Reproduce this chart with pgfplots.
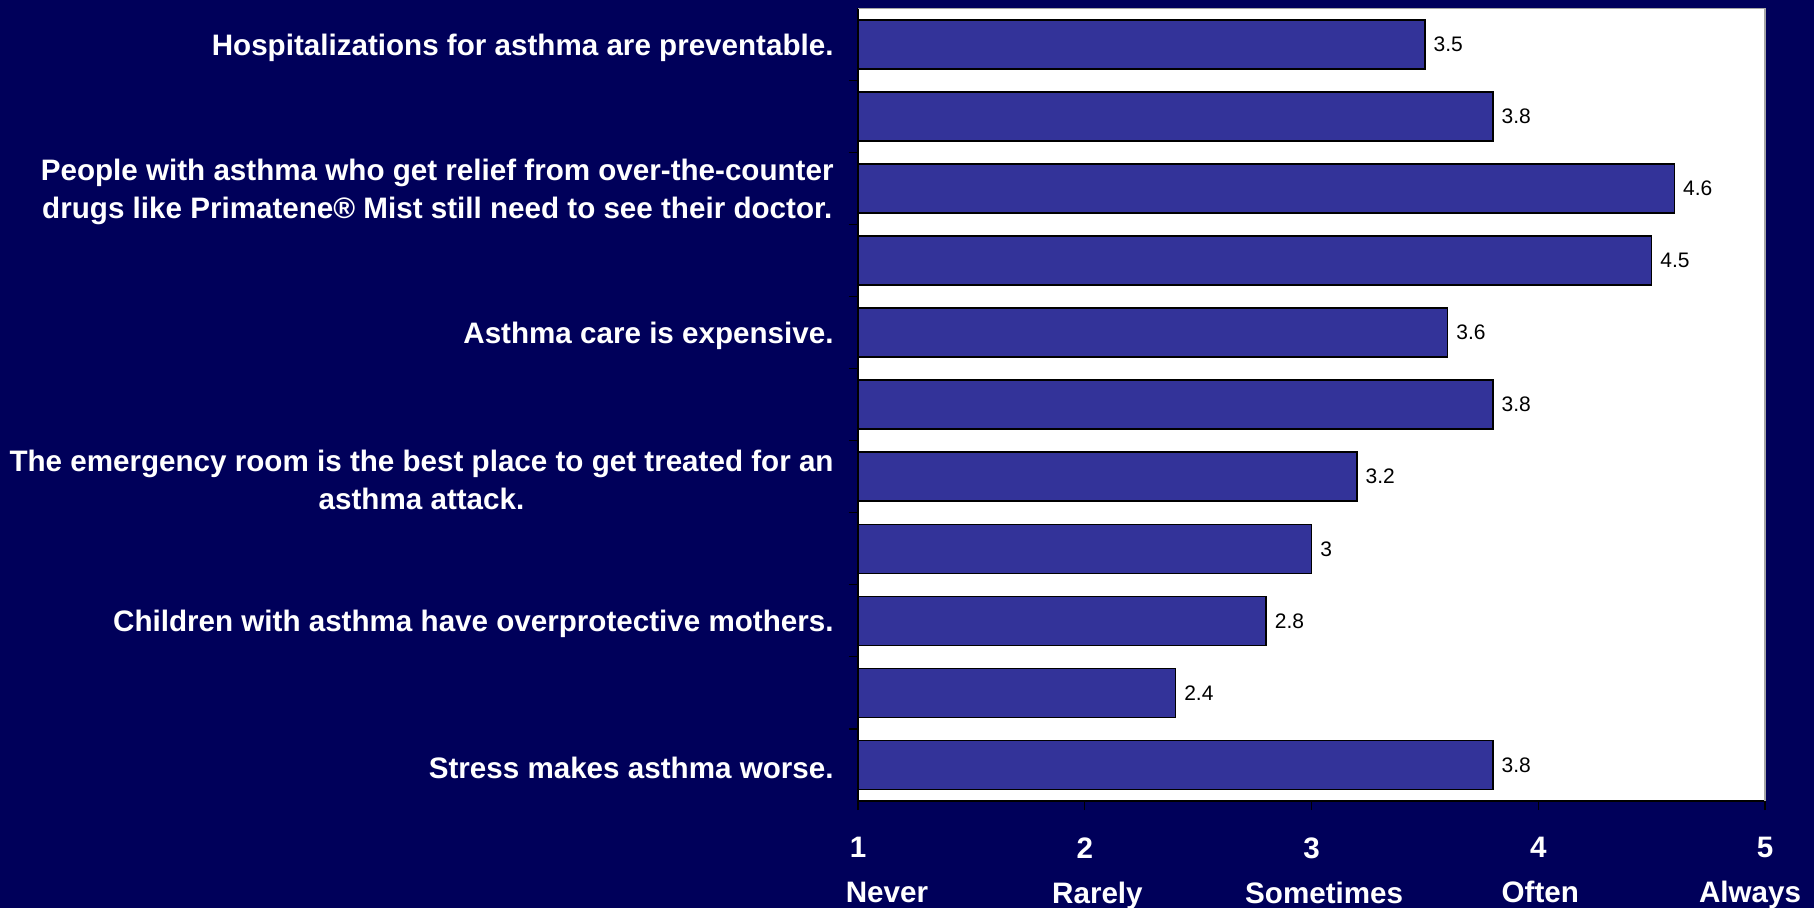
\documentclass[border=0pt]{standalone}
\usepackage{pgfplots}
\pgfplotsset{compat=1.18}
\usepackage{fontspec}
\setmainfont{Liberation Sans}
\definecolor{navybg}{RGB}{0,0,90}
\definecolor{barblue}{RGB}{51,51,153}
\begin{document}
\begin{tikzpicture}
\fill[navybg] (0,0) rectangle (907pt,454pt);
\useasboundingbox (0,0) rectangle (907pt,454pt);
\begin{axis}[
    name=ax,
    at={(429pt,53.5pt)}, anchor=south west,
    scale only axis,
    width=453.5pt, height=396.3pt,
    xbar, bar width=0.68,
    xmin=1, xmax=5,
    ymin=-0.5, ymax=10.5,
    y dir=reverse,
    axis background/.style={fill=white},
    axis line style={black, line width=0.8pt},
    tick align=outside,
    xtick pos=bottom, ytick pos=left,
    major tick length=4.5pt, minor tick length=4.5pt,
    tick style={black, line width=0.6pt},
    xtick={1,2,3,4,5},
    xticklabels={{1\\\hspace*{29pt}Never},{2\\\hspace*{12.7pt}Rarely},{3\\\hspace*{12.7pt}Sometimes},{4\\\hspace*{2pt}Often},{5\\Always\hspace*{15pt}}},
    xticklabel style={align=center, text=white, inner sep=0pt, anchor=north, yshift=-13.5pt,
        font=\bfseries\fontsize{14.8}{22.5}\selectfont},
    ytick={0,...,10},
    yticklabels={
        {Hospitalizations for asthma are preventable.},{},
        {People with asthma who get relief from over-the-counter\\drugs like Primatene® Mist still need to see their doctor.},{},
        {Asthma care is expensive.},{},
        {The emergency room is the best place to get treated for an\\asthma attack.},{},
        {Children with asthma have overprotective mothers.},{},
        {Stress makes asthma worse.}},
    yticklabel style={align=center, text=white, inner sep=0pt, anchor=east, xshift=-7.5pt, yshift=-1.5pt,
        font=\bfseries\fontsize{14.8}{19}\selectfont},
    major y tick style={draw=none},
    minor ytick={0.5,1.5,...,9.5},
    nodes near coords,
    nodes near coords style={anchor=west, inner sep=0pt, xshift=4pt, text=black,
        font=\fontsize{10.5}{12}\selectfont, /pgf/number format/assume math mode=true},
]
\addplot[fill=barblue, draw=black, line width=0.8pt] coordinates {
    (3.5,0) (3.8,1) (4.6,2) (4.5,3) (3.6,4) (3.8,5)
    (3.2,6) (3.0,7) (2.8,8) (2.4,9) (3.8,10)
};
\end{axis}
\draw[gray!70, line width=0.8pt] (ax.north west) -- (ax.north east) -- (ax.south east);
\end{tikzpicture}
\end{document}
